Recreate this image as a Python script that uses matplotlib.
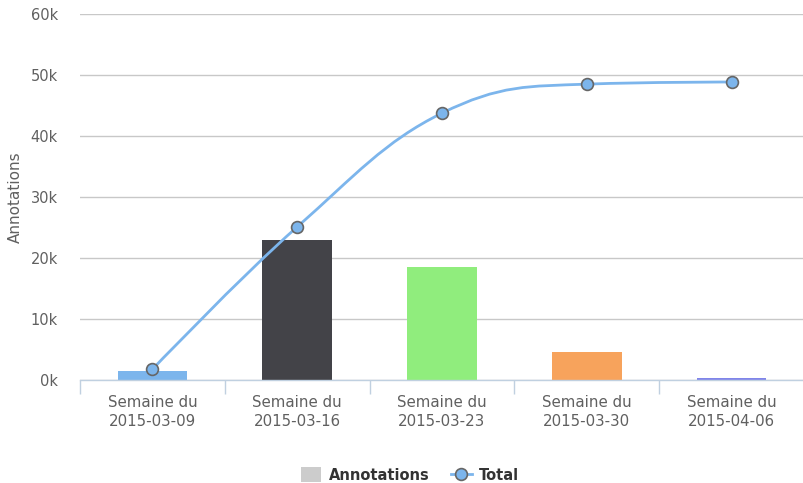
import numpy as np
import matplotlib
matplotlib.use("Agg")
import matplotlib.pyplot as plt
from matplotlib.path import Path
from matplotlib.patches import PathPatch, Patch
from matplotlib.lines import Line2D
from matplotlib.ticker import FuncFormatter, FixedLocator

plt.rcParams["font.family"] = ["DejaVu Sans"]

categories = ["Semaine du\n2015-03-09", "Semaine du\n2015-03-16", "Semaine du\n2015-03-23",
              "Semaine du\n2015-03-30", "Semaine du\n2015-04-06"]
annotations = [1400, 23000, 18500, 4600, 280]
total = [1750, 25100, 43750, 48500, 48850]
bar_colors = ["#7cb5ec", "#434348", "#90ed7d", "#f7a35c", "#8085e9"]

W, H = 804, 483
fig = plt.figure(figsize=(W / 100, H / 100), dpi=100)
ax = fig.add_axes([80 / W, 1 - 380 / H, 724 / W, 366 / H])

x = np.arange(len(categories))
ax.bar(x, annotations, width=0.48, color=bar_colors, zorder=2)

# Highcharts-like spline
def spline_path(xs, ys, smoothing=1.5):
    verts = [(xs[0], ys[0])]
    codes = [Path.MOVETO]
    n = len(xs)
    ctrl = []
    for i in range(n):
        if 0 < i < n - 1:
            denom = smoothing + 1
            lx = (smoothing * xs[i] + xs[i - 1]) / denom
            ly = (smoothing * ys[i] + ys[i - 1]) / denom
            rx = (smoothing * xs[i] + xs[i + 1]) / denom
            ry = (smoothing * ys[i] + ys[i + 1]) / denom
            corr = ((ry - ly) * (rx - xs[i])) / (rx - lx) + ys[i] - ry
            ly += corr
            ry += corr
            if ly > max(ys[i - 1], ys[i]):
                ly = max(ys[i - 1], ys[i]); ry = 2 * ys[i] - ly
            elif ly < min(ys[i - 1], ys[i]):
                ly = min(ys[i - 1], ys[i]); ry = 2 * ys[i] - ly
            if ry > max(ys[i + 1], ys[i]):
                ry = max(ys[i + 1], ys[i]); ly = 2 * ys[i] - ry
            elif ry < min(ys[i + 1], ys[i]):
                ry = min(ys[i + 1], ys[i]); ly = 2 * ys[i] - ry
            ctrl.append(((lx, ly), (rx, ry)))
        else:
            ctrl.append(((xs[i], ys[i]), (xs[i], ys[i])))
    for i in range(1, n):
        verts += [ctrl[i - 1][1], ctrl[i][0], (xs[i], ys[i])]
        codes += [Path.CURVE4] * 3
    return Path(verts, codes)

xs = list(map(float, x))
ax.add_patch(PathPatch(spline_path(xs, list(map(float, total))), fill=False,
                       edgecolor="#7cb5ec", lw=2, zorder=3))
ax.plot(x, total, ls="none", marker="o", ms=8.5, mfc="#7cb5ec", mec="#666666", mew=1.2, zorder=4)

ax.set_xlim(-0.5, len(categories) - 0.5)
ax.set_ylim(0, 60000)
ax.yaxis.set_major_locator(FixedLocator(np.arange(0, 60001, 10000)))
ax.yaxis.set_major_formatter(FuncFormatter(lambda v, p: f"{int(v/1000)}k"))
ax.grid(axis="y", color="#c8c8c8", lw=1, zorder=0)
ax.set_axisbelow(True)
for s in ["top", "right", "left"]:
    ax.spines[s].set_visible(False)
ax.spines["bottom"].set_color("#c0d0e0")
ax.spines["bottom"].set_linewidth(1)
ax.tick_params(axis="y", length=0, pad=16, labelsize=10.5, labelcolor="#606060")
ax.set_xticks(x)
ax.set_xticklabels(categories, fontsize=10.8, color="#606060", linespacing=1.35)
ax.tick_params(axis="x", length=0, pad=11)
ax.set_xticks(np.arange(-0.5, len(categories), 1.0), minor=True)
ax.tick_params(axis="x", which="minor", length=10, color="#c0d0e0", width=1)
ax.set_ylabel("Annotations", fontsize=11, color="#606060")
ax.yaxis.set_label_coords(-(80 - 23) / 724, 0.5)

handles = [Patch(facecolor="#cccccc", edgecolor="none"),
           Line2D([], [], color="#7cb5ec", lw=2, marker="o", ms=8.5, mfc="#7cb5ec", mec="#666666", mew=1.2)]
fig.legend(handles, ["Annotations", "Total"], loc="center", bbox_to_anchor=(410 / W, 1 - 475 / H),
           ncol=2, frameon=False, prop={"weight": "bold", "size": 10.5}, labelcolor="#333333",
           handlelength=1.4, handleheight=1.2, columnspacing=1.5, handletextpad=0.5)

fig.savefig("out.png", dpi=100, facecolor="white")
